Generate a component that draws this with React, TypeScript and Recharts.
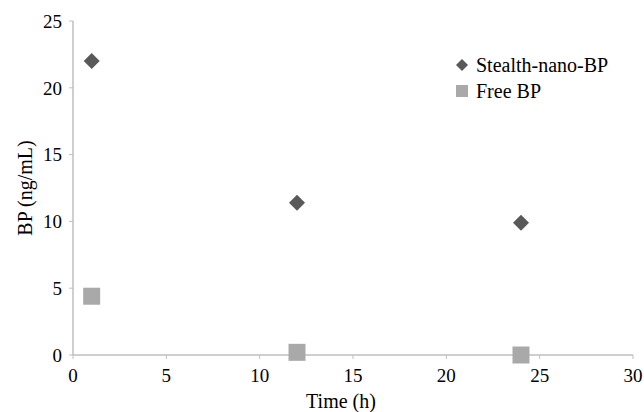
import React from 'react';
import { ScatterChart, Scatter, XAxis, YAxis, Label } from 'recharts';

const stealthTimes = [1, 12, 24];
const stealthValues = [22, 11.4, 9.9];
const freeTimes = [1, 12, 24];
const freeValues = [4.4, 0.2, 0];
const xTicks = [0, 5, 10, 15, 20, 25, 30];
const yTicks = [0, 5, 10, 15, 20, 25];
const seriesNames = ['Stealth-nano-BP', 'Free BP'];

const stealthData = stealthTimes.map((t, i) => ({ x: t, y: stealthValues[i] }));
const freeData = freeTimes.map((t, i) => ({ x: t, y: freeValues[i] }));

const DARK = '#595959';
const LIGHT = '#a9a9a9';
const AXIS = '#bfbfbf';
const TEXT = '#000';
const FONT = '"Liberation Serif", "Times New Roman", serif';

const Diamond = (props: any) => {
  const { cx, cy } = props;
  const r = 8;
  return (
    <polygon
      points={`${cx},${cy - r} ${cx + r},${cy} ${cx},${cy + r} ${cx - r},${cy}`}
      fill={DARK}
    />
  );
};

const Square = (props: any) => {
  const { cx, cy } = props;
  const s = 17;
  return <rect x={cx - s / 2} y={cy - s / 2} width={s} height={s} fill={LIGHT} />;
};

const LegendBox = () => (
  <div
    style={{
      position: 'absolute',
      left: 455,
      top: 52,
      fontFamily: FONT,
      fontSize: 20,
      color: TEXT,
      lineHeight: '26px',
    }}
  >
    <div style={{ display: 'flex', alignItems: 'center' }}>
      <svg width={14} height={14} style={{ marginRight: 7 }}>
        <polygon points="7,1 13,7 7,13 1,7" fill={DARK} />
      </svg>
      <span>{seriesNames[0]}</span>
    </div>
    <div style={{ display: 'flex', alignItems: 'center' }}>
      <svg width={14} height={14} style={{ marginRight: 7 }}>
        <rect x={1} y={1} width={12} height={12} fill={LIGHT} />
      </svg>
      <span>{seriesNames[1]}</span>
    </div>
  </div>
);

export default function App() {
  return (
    <div
      style={{
        position: 'absolute',
        left: 0,
        top: 0,
        width: 644,
        height: 412,
        background: '#fff',
        fontFamily: FONT,
      }}
    >
      <ScatterChart
        width={644}
        height={412}
        margin={{ top: 21, right: 11, bottom: 0, left: 0 }}
        style={{ fontFamily: FONT }}
      >
        <XAxis
          type="number"
          dataKey="x"
          domain={[0, 30]}
          ticks={xTicks}
          tickSize={4}
          tickMargin={10}
          height={57}
          axisLine={{ stroke: AXIS, strokeWidth: 1.5 }}
          tickLine={{ stroke: AXIS }}
          tick={{ fill: TEXT, fontSize: 19, fontFamily: FONT }}
        >
          <Label
            value="Time (h)"
            position="insideBottom"
            offset={4}
            dx={-12}
            style={{ fill: TEXT, fontSize: 20, fontFamily: FONT }}
          />
        </XAxis>
        <YAxis
          type="number"
          dataKey="y"
          domain={[0, 25]}
          ticks={yTicks}
          width={73}
          tickSize={4}
          tickMargin={7}
          axisLine={{ stroke: AXIS, strokeWidth: 1.5 }}
          tickLine={{ stroke: AXIS }}
          tick={{ fill: TEXT, fontSize: 19, fontFamily: FONT }}
        >
          <Label
            value="BP (ng/mL)"
            angle={-90}
            position="center"
            dx={-12}
            style={{ fill: TEXT, fontSize: 20, fontFamily: FONT, textAnchor: 'middle' }}
          />
        </YAxis>
        <Scatter name={seriesNames[0]} data={stealthData} shape={<Diamond />} isAnimationActive={false} />
        <Scatter name={seriesNames[1]} data={freeData} shape={<Square />} isAnimationActive={false} />
      </ScatterChart>
      <LegendBox />
    </div>
  );
}
